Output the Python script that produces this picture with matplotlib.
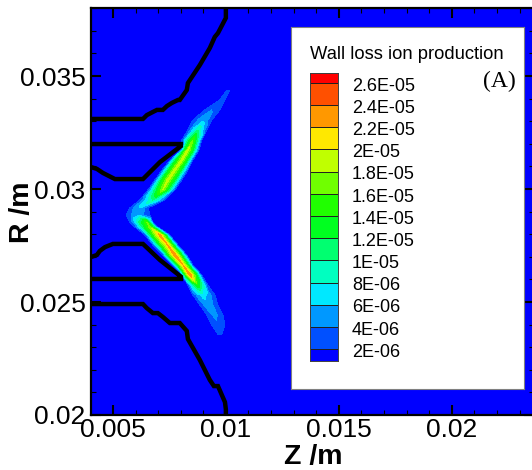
import numpy as np
import matplotlib
matplotlib.use('Agg')
import matplotlib.pyplot as plt
import matplotlib.tri as mtri
from matplotlib.ticker import MultipleLocator, FormatStrFormatter
from matplotlib.colors import ListedColormap, BoundaryNorm

plt.rcParams['font.family'] = ['Liberation Sans', 'DejaVu Sans']

# contour levels and band colours (first = below 2E-06, last = above 2.6E-05)
levels = [2e-6, 4e-6, 6e-6, 8e-6, 1e-5, 1.2e-5, 1.4e-5, 1.6e-5, 1.8e-5, 2e-5, 2.2e-5, 2.4e-5, 2.6e-5]
level_labels = ['2E-06', '4E-06', '6E-06', '8E-06', '1E-05', '1.2E-05', '1.4E-05',
                '1.6E-05', '1.8E-05', '2E-05', '2.2E-05', '2.4E-05', '2.6E-05']
band_colors = ['#0000ff', '#0050ff', '#0098ff', '#00e8ff', '#00ffc0', '#00ff70', '#00ff20',
               '#20ff00', '#70ff00', '#c0ff00', '#ffe800', '#ff9800', '#ff5000', '#ff0000']

# plume, read row by row: radius, left edge, ridge, right edge, ridge value, shoulder value
row_r = [.03438, .03394, .0335, .03305, .03261, .03217, .03173, .03128, .03084, .0304, .02996, .02951, .02916,
         .02885, .02854, .02832, .02796, .02752, .02708, .02664, .02619, .02575, .02531, .02487, .02442, .02398, .02358]
row_left = [.01004, .00973, .00907, .00854, .00832, .00805, .00801, .00752, .00717, .00686, .00655, .00619, .00575,
            .00558, .00575, .00597, .00642, .00677, .00721, .00765, .00805, .00832, .00854, .00885, .00916, .00938, .00965]
row_ridge = [.01011, .00982, .00938, .00898, .00876, .00854, .00832, .00805, .00774, .00743, .00721, .00677, .00619,
             .00606, .0065, .00664, .00708, .00743, .00774, .0081, .00841, .00876, .00898, .0092, .00951, .00965, .00973]
row_right = [.01018, .00996, .00973, .00938, .00916, .00894, .00881, .00854, .00832, .00805, .00774, .0073, .00655,
             .00664, .00677, .00699, .00752, .00788, .00827, .00854, .00894, .0092, .00951, .00965, .00987, .00996, .00982]
row_peak = [3e-6, 3.5e-6, 4e-6, 5.5e-6, 1e-5, 1.6e-5, 1.9e-5, 1.9e-5, 1.9e-5, 1.9e-5, 1.8e-5, 1e-5, 6e-6,
            5e-6, 1.6e-5, 1.7e-5, 2.3e-5, 2.2e-5, 2.4e-5, 2.2e-5, 2.4e-5, 1.4e-5, 7e-6, 5e-6, 4.5e-6, 3.5e-6, 2.5e-6]
row_mid = [2.6e-6, 3e-6, 3.4e-6, 4.2e-6, 6.5e-6, 1e-5, 1.2e-5, 1.2e-5, 1.2e-5, 1.2e-5, 1.1e-5, 6.5e-6, 4.5e-6,
           4e-6, 1e-5, 1.05e-5, 1.4e-5, 1.35e-5, 1.45e-5, 1.35e-5, 1.45e-5, 9e-6, 5.2e-6, 4e-6, 3.7e-6, 3e-6, 2.3e-6]

# wall and electrode outlines
wall_up_z = [.00403, .00633, .0065, .00677, .00695, .00721, .00739, .00761, .00788, .00796, .00827, .00832, .00885, .00929, .00951, .00965, .01, .01]
wall_up_r = [.0331, .0331, .03327, .03341, .0335, .0335, .03367, .03381, .03394, .03394, .03438, .03469, .03549, .03624, .03673, .0369, .03757, .03801]
wall_lo_z = [.00403, .00633, .0065, .00677, .00699, .00721, .00752, .00796, .00827, .00832, .00885, .00929, .00947, .00965, .00996, .01, .01]
wall_lo_r = [.02491, .02491, .02473, .02451, .02451, .02434, .02407, .02407, .02372, .02336, .02243, .02155, .02128, .02128, .02057, .02025, .02]
elec_up_z = [.00403, .00801, .00801, .00708, .00633, .00509, .00456, .00429, .00403]
elec_up_r = [.03199, .03199, .0319, .03119, .03044, .03044, .03071, .03089, .03097]
elec_lo_z = [.00403, .00801, .00801, .00708, .00633, .005, .00465, .00442, .00429, .00403]
elec_lo_r = [.02602, .02602, .02612, .02686, .02757, .02757, .02743, .02726, .02708, .02699]

W, H = 532, 470


def fig_rect(x0, y0, x1, y1):
    # pixel box (y down) to figure fractions
    return [x0 / W, 1 - y1 / H, (x1 - x0) / W, (y1 - y0) / H]


fig = plt.figure(figsize=(W / 100, H / 100), dpi=100, facecolor='white')
ax = fig.add_axes(fig_rect(91, 8, 534, 415))

x_lim = (.00403, .02364)
y_lim = (.02, .03801)

# samples per row, joined to the next row by strips of triangles
pts_z, pts_r, pts_v, strips = [], [], [], []
n_col = 5
for i, (r, l, m, h, p, s) in enumerate(zip(row_r, row_left, row_ridge, row_right, row_peak, row_mid)):
    pts_z += [l, (l + m) / 2, m, (m + h) / 2, h]
    pts_r += [r] * n_col
    pts_v += [2e-6, s, p, s, 2e-6]
    if i == 0:
        continue
    for j in range(n_col - 1):
        a = (i - 1) * n_col + j
        b = i * n_col + j
        strips += [[a, a + 1, b], [a + 1, b + 1, b]]

tri = mtri.Triangulation(pts_z, pts_r, strips)
ax.set_facecolor(band_colors[0])
cmap = ListedColormap(band_colors[1:-1]).with_extremes(under=band_colors[0], over=band_colors[-1])
ax.tricontourf(tri, pts_v, levels=levels, cmap=cmap, norm=BoundaryNorm(levels, cmap.N), extend='both')

for zs, rs in [(wall_up_z, wall_up_r), (wall_lo_z, wall_lo_r), (elec_up_z, elec_up_r), (elec_lo_z, elec_lo_r)]:
    ax.plot(zs, rs, color='black', lw=3.2, solid_joinstyle='miter', solid_capstyle='butt')

ax.set_xlim(x_lim)
ax.set_ylim(y_lim)
ax.xaxis.set_major_locator(MultipleLocator(.005))
ax.xaxis.set_minor_locator(MultipleLocator(.001))
ax.yaxis.set_major_locator(MultipleLocator(.005))
ax.yaxis.set_minor_locator(MultipleLocator(.001))
ax.xaxis.set_major_formatter(FormatStrFormatter('%g'))
ax.yaxis.set_major_formatter(FormatStrFormatter('%g'))
ax.tick_params(which='major', direction='in', top=True, right=True, length=7, width=1.5, labelsize=19)
ax.tick_params(which='minor', direction='in', top=True, right=True, length=3.5, width=.8)
ax.tick_params(axis='x', which='major', pad=2)
ax.tick_params(axis='y', which='major', pad=4)
for s in ax.spines.values():
    s.set_linewidth(1.6)

fig.text(313 / W, 1 - 457 / H, 'Z /m', fontsize=20.5, fontweight='bold', ha='center', va='center')
fig.text(22 / W, 1 - 212 / H, 'R /m', fontsize=20.5, fontweight='bold', ha='center', va='center', rotation=90)

# legend box
box = fig.add_axes(fig_rect(291, 27, 524, 389), facecolor='white', zorder=5)
box.set_xticks([])
box.set_yticks([])
box.set_xlim(291, 524)
box.set_ylim(389, 27)
for s in box.spines.values():
    s.set_color('#808080')
    s.set_linewidth(.8)
box.text(310, 54, 'Wall loss ion production', fontsize=13.2, ha='left', va='center')
box.text(516, 81, '(A)', fontsize=17, family='Liberation Serif', ha='right', va='center')

cax = fig.add_axes(fig_rect(310, 73, 338, 361), zorder=6)
step = levels[1] - levels[0]
low = levels[0] - step * 12 / 22.17
high = levels[-1] + step * 10 / 22.17
edges = [low] + levels + [high]
for c, y0, y1 in zip(band_colors, edges[:-1], edges[1:]):
    cax.barh(y0, 1, height=y1 - y0, align='edge', color=c, edgecolor='#202020', linewidth=.7)
cax.set_xlim(0, 1)
cax.set_ylim(low, high)
cax.set_xticks([])
cax.set_yticks([])
for s in cax.spines.values():
    s.set_color('#404040')
    s.set_linewidth(.7)
for v, t in zip(levels, level_labels):
    cax.annotate(t, xy=(1, v), xycoords=('axes fraction', 'data'), xytext=(10, -2.3),
                 textcoords='offset points', fontsize=13, ha='left', va='center')

fig.savefig('out.png', dpi=100)
